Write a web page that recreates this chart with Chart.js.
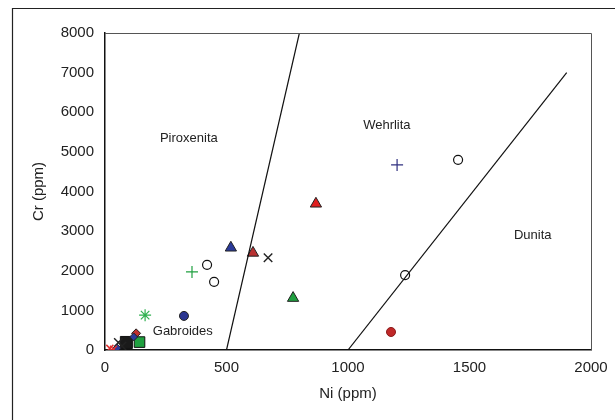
<!DOCTYPE html>
<html>
<head>
<meta charset="utf-8">
<script src="https://cdn.jsdelivr.net/npm/chart.js@4.4.0/dist/chart.umd.min.js"></script>
<style>
  html, body { margin: 0; padding: 0; background: #fff; }
  #wrap { width: 615px; height: 420px; }
</style>
</head>
<body>
<div id="wrap"><canvas id="ni_cr"></canvas></div>
<script>
// Ni vs Cr (ppm) - field boundaries and samples
var xTicks = [0, 500, 1000, 1500, 2000];
var yTicks = [0, 1000, 2000, 3000, 4000, 5000, 6000, 7000, 8000];

var boundaryA = [{x: 500, y: 0}, {x: 800, y: 8000}];
var boundaryB = [{x: 1000, y: 0}, {x: 1900, y: 7000}];

var fieldNames = ["Piroxenita", "Wehrlita", "Dunita", "Gabroides"];
var fieldX = [345, 1160, 1760, 320];
var fieldY = [5350, 5680, 2900, 480];

var openCircles = [{x: 420, y: 2150}, {x: 449, y: 1720}, {x: 1235, y: 1890}, {x: 1453, y: 4800}];
var blueCircles = [{x: 325, y: 860}];
var redCircles = [{x: 1177, y: 455}];
var blueTriangles = [{x: 518, y: 2580}];
var darkRedTriangles = [{x: 609, y: 2450}];
var redTriangles = [{x: 868, y: 3690}];
var greenTriangles = [{x: 774, y: 1310}];
var blackCrosses = [{x: 671, y: 2330}, {x: 55, y: 190}, {x: 70, y: 100}];
var bluePlus = [{x: 1202, y: 4670}];
var greenPlus = [{x: 358, y: 1970}];
var greenStars = [{x: 165, y: 880}];
var blackSquares = [{x: 88, y: 190}];
var greenSquares = [{x: 142, y: 200}];
var blueDiamonds = [{x: 118, y: 330}, {x: 50, y: 50}];
var redDiamonds = [{x: 128, y: 420}];
var redCrosses = [{x: 20, y: 40}, {x: 35, y: 20}];

var FONT = 'Arial, "Liberation Sans", sans-serif';

function pts(data, label, style, fill, line, r, bw) {
    return {type: 'scatter', label: label, data: data, pointStyle: style,
        backgroundColor: fill, borderColor: line, pointRadius: r, pointBorderWidth: bw,
        pointHoverRadius: r};
}

var labelsPlugin = {
    id: 'fieldLabels',
    beforeDraw: function(chart) {
        var c = chart.ctx;
        c.save();
        c.strokeStyle = '#222';
        c.lineWidth = 1.2;
        c.beginPath();
        c.moveTo(12.5, 430); c.lineTo(12.5, 8.5); c.lineTo(620, 8.5);
        c.stroke();
        c.restore();
    },
    afterDatasetsDraw: function(chart) {
        var c = chart.ctx, xs = chart.scales.x, ys = chart.scales.y, a = chart.chartArea;
        c.save();
        c.strokeStyle = '#555';
        c.lineWidth = 1;
        c.beginPath();
        c.moveTo(a.left, a.top + 0.5); c.lineTo(a.right + 0.5, a.top + 0.5); c.lineTo(a.right + 0.5, a.bottom);
        c.stroke();
        c.fillStyle = '#222';
        c.font = '13px ' + FONT;
        c.textAlign = 'center';
        c.textBaseline = 'middle';
        for (var i = 0; i < fieldNames.length; i++) {
            c.fillText(fieldNames[i], xs.getPixelForValue(fieldX[i]), ys.getPixelForValue(fieldY[i]));
        }
        c.restore();
    }
};

var ctx = document.getElementById('ni_cr').getContext('2d');
var chart = new Chart(ctx, {
    type: 'scatter',
    data: {
        datasets: [
            {type: 'line', data: boundaryA, borderColor: '#111', borderWidth: 1.2, pointRadius: 0, fill: false},
            {type: 'line', data: boundaryB, borderColor: '#111', borderWidth: 1.2, pointRadius: 0, fill: false},
            pts(redCrosses, 'rx', 'crossRot', '#e03030', '#e03030', 5, 1.5),
            pts(blueDiamonds, 'bd', 'rectRot', '#2a3a9a', '#222', 4, 1),
            pts(blackCrosses, 'bx', 'crossRot', '#222', '#222', 6, 1.4),
            pts(blackSquares, 'bs', 'rect', '#1a1a1a', '#111', 8.5, 1),
            pts(greenSquares, 'gs', 'rect', '#20a040', '#111', 7.5, 1),
            pts(redDiamonds, 'rd', 'rectRot', '#c03030', '#222', 4.5, 1),
            pts(openCircles, 'oc', 'circle', '#fff', '#111', 4.5, 1.2),
            pts(blueCircles, 'bc', 'circle', '#2a3590', '#222', 4.5, 1),
            pts(redCircles, 'rc', 'circle', '#c02828', '#8a1a1a', 4.5, 1),
            pts(blueTriangles, 'bt', 'triangle', '#2a3a9a', '#222', 6.5, 1),
            pts(darkRedTriangles, 'drt', 'triangle', '#b83030', '#222', 6.5, 1),
            pts(redTriangles, 'rt', 'triangle', '#e02020', '#222', 6.5, 1),
            pts(greenTriangles, 'gt', 'triangle', '#20a040', '#222', 6.5, 1),
            pts(bluePlus, 'bp', 'cross', '#303080', '#303080', 6, 1.2),
            pts(greenPlus, 'gp', 'cross', '#20a040', '#20a040', 6, 1.2),
            pts(greenStars, 'gst', 'star', '#30b050', '#30b050', 6, 1.2)
        ]
    },
    options: {
        responsive: true,
        maintainAspectRatio: false,
        animation: false,
        events: [],
        layout: {padding: {left: 22, right: 24, top: 33, bottom: 17}},
        plugins: {legend: {display: false}, tooltip: {enabled: false}},
        scales: {
            x: {
                type: 'linear', min: 0, max: 2000,
                afterBuildTicks: function(s) { s.ticks = xTicks.map(function(v) { return {value: v}; }); },
                afterFit: function(s) { s.height = 53; },
                grid: {display: false, drawTicks: true, tickLength: 5, color: '#222'},
                border: {color: '#111', width: 1.5},
                ticks: {color: '#222', font: {size: 15, family: FONT}, padding: 4, maxRotation: 0,
                    callback: function(v) { return String(v); }},
                title: {display: true, text: 'Ni (ppm)', color: '#222', font: {size: 15, family: FONT}, padding: {top: 4, bottom: 0}}
            },
            y: {
                type: 'linear', min: 0, max: 8000,
                afterBuildTicks: function(s) { s.ticks = yTicks.map(function(v) { return {value: v}; }); },
                afterFit: function(s) { s.width = 83; },
                grid: {display: false, drawTicks: true, tickLength: 5, color: '#222'},
                border: {color: '#111', width: 1.5},
                ticks: {color: '#222', font: {size: 15, family: FONT}, padding: 6,
                    callback: function(v) { return String(v); }},
                title: {display: true, text: 'Cr (ppm)', color: '#222', font: {size: 15, family: FONT}, padding: {top: 8, bottom: 0}}
            }
        }
    },
    plugins: [labelsPlugin]
});
</script>
</body>
</html>
